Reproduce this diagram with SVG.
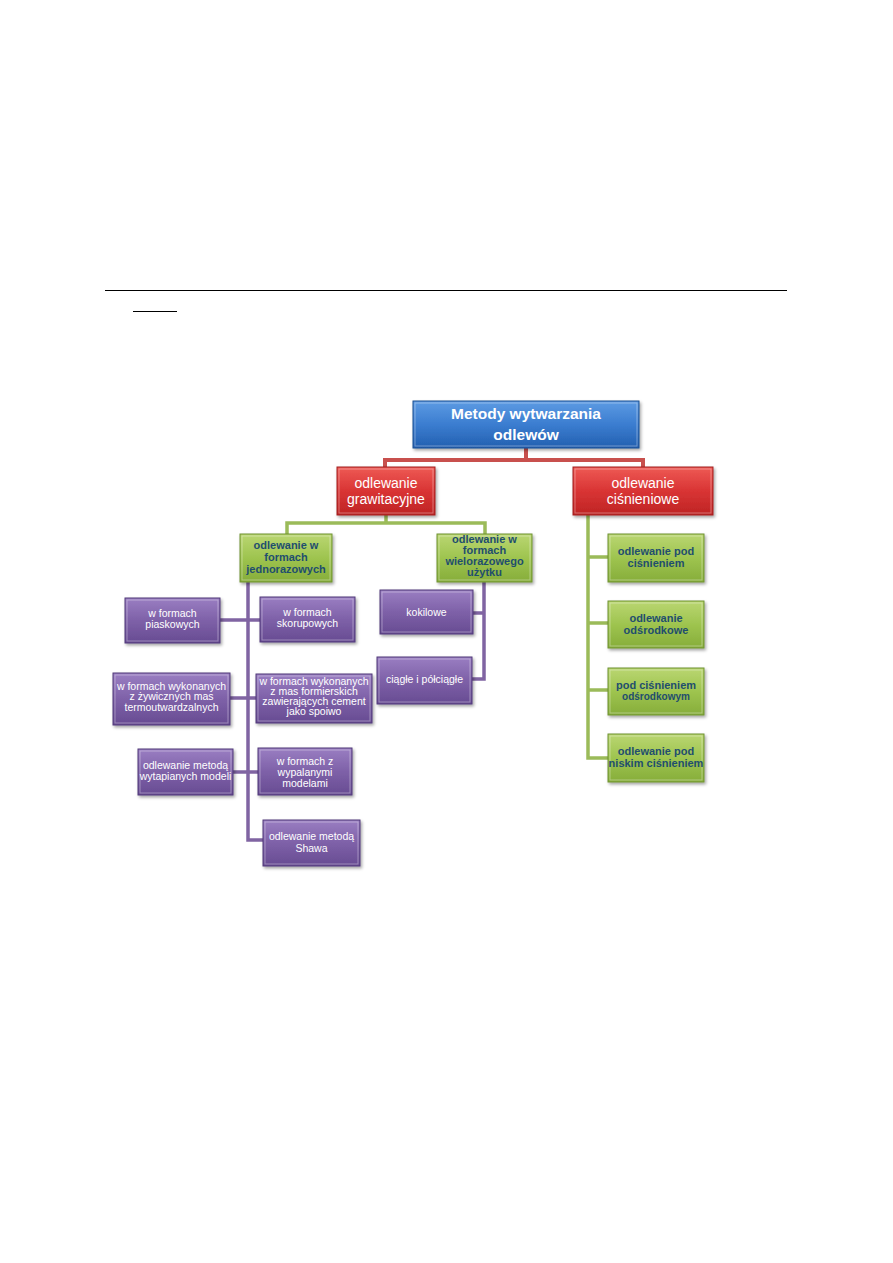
<svg xmlns="http://www.w3.org/2000/svg" width="893" height="1263" viewBox="0 0 893 1263">
<defs>
<linearGradient id="gBlue" x1="0" y1="0" x2="0" y2="1"><stop offset="0" stop-color="#5D9BE3"/><stop offset="0.5" stop-color="#3B7DD0"/><stop offset="1" stop-color="#2360B0"/></linearGradient>
<linearGradient id="gRed" x1="0" y1="0" x2="0" y2="1"><stop offset="0" stop-color="#EE5A55"/><stop offset="0.5" stop-color="#D93434"/><stop offset="1" stop-color="#BE2424"/></linearGradient>
<linearGradient id="gGreen" x1="0" y1="0" x2="0" y2="1"><stop offset="0" stop-color="#BAD672"/><stop offset="0.5" stop-color="#9EC44F"/><stop offset="1" stop-color="#86AD3A"/></linearGradient>
<linearGradient id="gPurple" x1="0" y1="0" x2="0" y2="1"><stop offset="0" stop-color="#9A7EC2"/><stop offset="0.5" stop-color="#7E61A8"/><stop offset="1" stop-color="#674B92"/></linearGradient>
<filter id="sh" x="-10%" y="-10%" width="130%" height="140%"><feDropShadow dx="1.5" dy="2" stdDeviation="1.5" flood-color="#000" flood-opacity="0.35"/></filter>
</defs>
<style>
.blue{fill:url(#gBlue);stroke:#1C4F91;stroke-width:1;filter:url(#sh)}
.red{fill:url(#gRed);stroke:#A01E1E;stroke-width:1;filter:url(#sh)}
.green{fill:url(#gGreen);stroke:#6F9230;stroke-width:1;filter:url(#sh)}
.purple{fill:url(#gPurple);stroke:#513A78;stroke-width:1;filter:url(#sh)}
.hl{fill:none;stroke:#fff;stroke-opacity:0.35;stroke-width:1}
text{font-family:"Liberation Sans",Arial,sans-serif;text-anchor:middle}
.tt{fill:#fff;font-size:15.5px;font-weight:bold}
.tr{fill:#fff;font-size:14px}
.tg{fill:#1F4E6E;font-size:11px;font-weight:bold}
.tp{fill:#fff;font-size:10.5px}
.cr{fill:none;stroke:#C8504D;stroke-width:4}
.cg{fill:none;stroke:#9BBB59;stroke-width:3.5}
.cp{fill:none;stroke:#8064A2;stroke-width:3.5}
</style>
<g id="page">
<line x1="105" y1="290.5" x2="787" y2="290.5" stroke="#000" stroke-width="1.2"/>
<line x1="133" y1="311.5" x2="177" y2="311.5" stroke="#000" stroke-width="1.2"/>
</g>
<g id="connectors">
<path class="cr" d="M526 448 V460 M385 467 V460 H643 V467"/>
<path class="cg" d="M386 515 V523 M287 534 V523 H485 V534"/>
<path class="cg" d="M588 515 V758 H608 M588 557 H608 M588 623 H608 M588 690 H608"/>
<path class="cp" d="M248 582 V840 H263 M220 620 H260 M230 698 H256 M233 772 H258"/>
<path class="cp" d="M484 582 V679 H472 M473 613 H484"/>
</g>
<g id="n-root"><rect class="blue" x="413" y="401" width="226" height="47"/><rect class="hl" x="415" y="403" width="222" height="43"/>
<text class="tt" x="526" y="419">Metody wytwarzania</text><text class="tt" x="526" y="440">odlewów</text></g>
<g id="n-graw"><rect class="red" x="337" y="467" width="98" height="48"/><rect class="hl" x="339" y="469" width="94" height="44"/>
<text class="tr" x="386" y="488">odlewanie</text><text class="tr" x="386" y="504">grawitacyjne</text></g>
<g id="n-cisn"><rect class="red" x="573" y="467" width="140" height="48"/><rect class="hl" x="575" y="469" width="136" height="44"/>
<text class="tr" x="643" y="488">odlewanie</text><text class="tr" x="643" y="504">ciśnieniowe</text></g>
<g id="n-jedn"><rect class="green" x="240" y="534" width="92" height="48"/><rect class="hl" x="242" y="536" width="88" height="44"/>
<text class="tg" x="286" y="549">odlewanie w</text><text class="tg" x="286" y="561">formach</text><text class="tg" x="286" y="573">jednorazowych</text></g>
<g id="n-wielo"><rect class="green" x="437" y="534" width="95" height="48"/><rect class="hl" x="439" y="536" width="91" height="44"/>
<text class="tg" x="484.5" y="543">odlewanie w</text><text class="tg" x="484.5" y="554">formach</text><text class="tg" x="484.5" y="565">wielorazowego</text><text class="tg" x="484.5" y="576">użytku</text></g>
<g id="n-pod"><rect class="green" x="608" y="534" width="96" height="48"/><rect class="hl" x="610" y="536" width="92" height="44"/>
<text class="tg" x="656" y="555">odlewanie pod</text><text class="tg" x="656" y="567">ciśnieniem</text></g>
<g id="n-odsr"><rect class="green" x="608" y="601" width="96" height="47"/><rect class="hl" x="610" y="603" width="92" height="43"/>
<text class="tg" x="656" y="622">odlewanie</text><text class="tg" x="656" y="634">odśrodkowe</text></g>
<g id="n-podods"><rect class="green" x="608" y="668" width="96" height="47"/><rect class="hl" x="610" y="670" width="92" height="43"/>
<text class="tg" x="656" y="689">pod ciśnieniem</text><text class="tg" x="656" y="700" style="font-size:10px">odśrodkowym</text></g>
<g id="n-nisk"><rect class="green" x="608" y="734" width="96" height="48"/><rect class="hl" x="610" y="736" width="92" height="44"/>
<text class="tg" x="656" y="755">odlewanie pod</text><text class="tg" x="656" y="767">niskim ciśnieniem</text></g>
<g id="n-piask"><rect class="purple" x="125" y="598" width="95" height="45"/><rect class="hl" x="127" y="600" width="91" height="41"/>
<text class="tp" x="172.5" y="617">w formach</text><text class="tp" x="172.5" y="628">piaskowych</text></g>
<g id="n-skor"><rect class="purple" x="260" y="597" width="95" height="45"/><rect class="hl" x="262" y="599" width="91" height="41"/>
<text class="tp" x="307.5" y="616">w formach</text><text class="tp" x="307.5" y="627">skorupowych</text></g>
<g id="n-zyw"><rect class="purple" x="113" y="673" width="117" height="52"/><rect class="hl" x="115" y="675" width="113" height="48"/>
<text class="tp" x="171.5" y="690">w formach wykonanych</text><text class="tp" x="171.5" y="700">z żywicznych mas</text><text class="tp" x="171.5" y="711">termoutwardzalnych</text></g>
<g id="n-cem"><rect class="purple" x="256" y="674" width="116" height="49"/><rect class="hl" x="258" y="676" width="112" height="45"/>
<text class="tp" x="314" y="685">w formach wykonanych</text><text class="tp" x="314" y="695">z mas formierskich</text><text class="tp" x="314" y="705">zawierających cement</text><text class="tp" x="314" y="715">jako spoiwo</text></g>
<g id="n-wyt"><rect class="purple" x="138" y="749" width="95" height="46"/><rect class="hl" x="140" y="751" width="91" height="42"/>
<text class="tp" x="185.5" y="769">odlewanie metodą</text><text class="tp" x="185.5" y="780">wytapianych modeli</text></g>
<g id="n-wyp"><rect class="purple" x="258" y="748" width="94" height="47"/><rect class="hl" x="260" y="750" width="90" height="43"/>
<text class="tp" x="305" y="765">w formach z</text><text class="tp" x="305" y="776">wypalanymi</text><text class="tp" x="305" y="787">modelami</text></g>
<g id="n-shaw"><rect class="purple" x="263" y="820" width="97" height="46"/><rect class="hl" x="265" y="822" width="93" height="42"/>
<text class="tp" x="311.5" y="840">odlewanie metodą</text><text class="tp" x="311.5" y="852">Shawa</text></g>
<g id="n-kok"><rect class="purple" x="380" y="590" width="93" height="44"/><rect class="hl" x="382" y="592" width="89" height="40"/>
<text class="tp" x="426.5" y="616">kokilowe</text></g>
<g id="n-ciag"><rect class="purple" x="377" y="657" width="95" height="47"/><rect class="hl" x="379" y="659" width="91" height="43"/>
<text class="tp" x="424.5" y="683">ciągłe i półciągłe</text></g>
</svg>
